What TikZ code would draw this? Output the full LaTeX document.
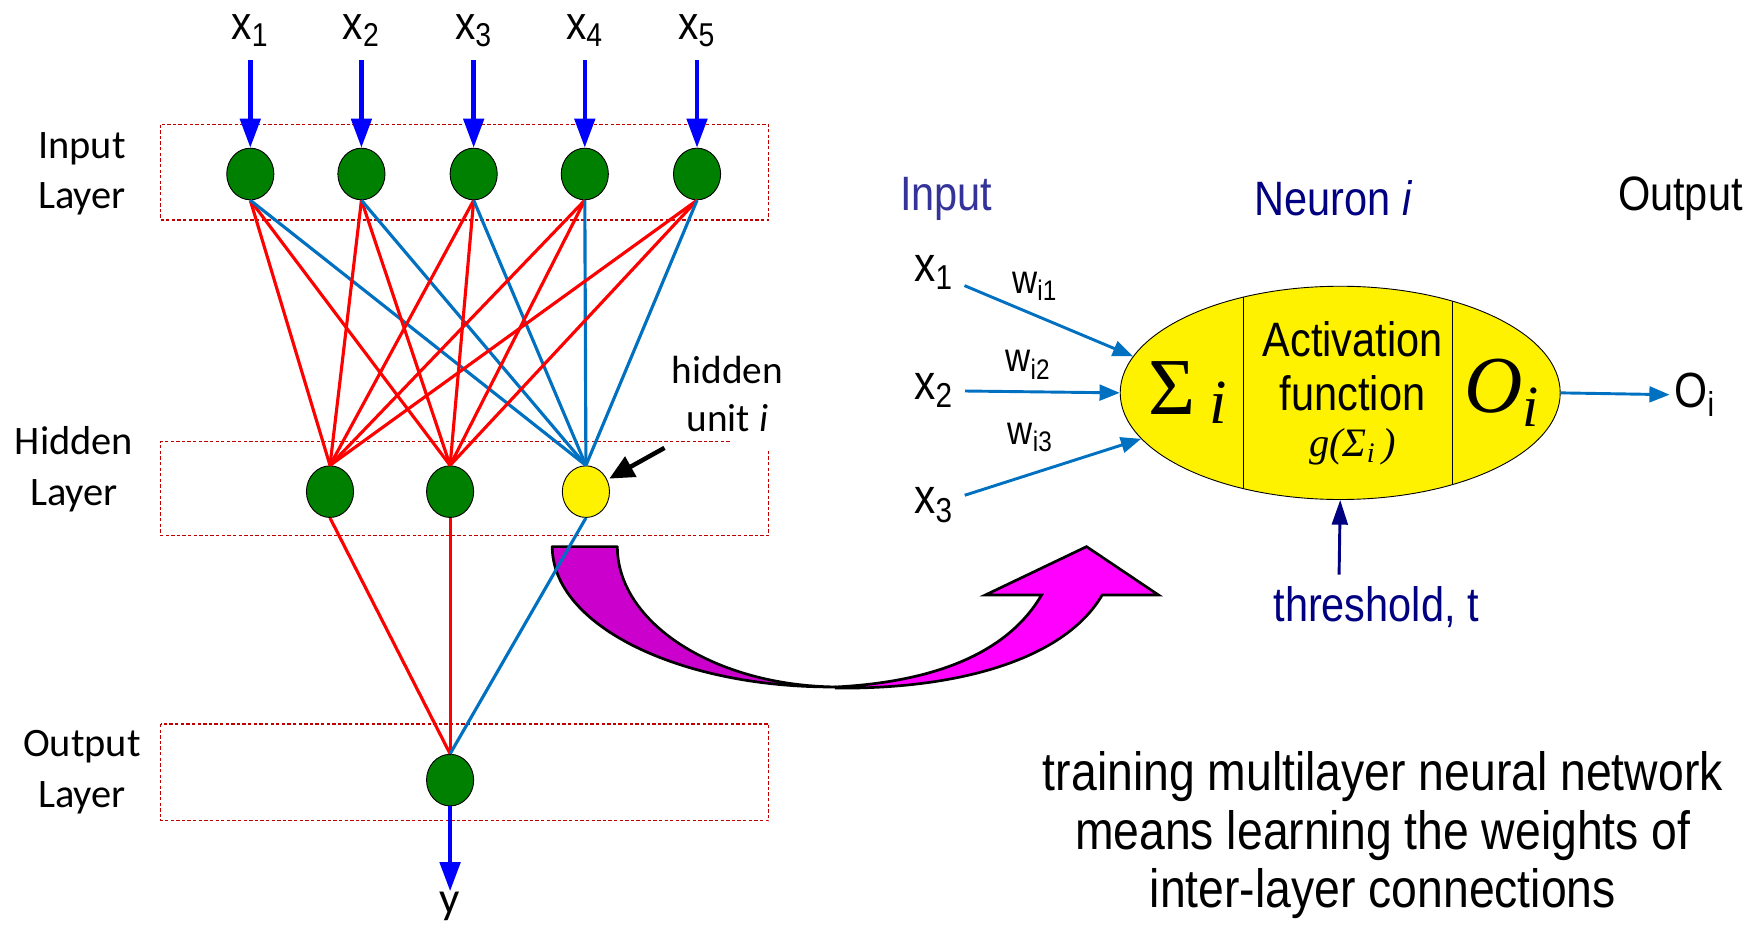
\documentclass[tikz,border=0pt]{standalone}
\usepackage{fontspec}
\usetikzlibrary{shapes.geometric,arrows.meta}
\newfontfamily\arialn{Liberation Sans}[FakeStretch=0.86]
\newfontfamily\calib{Carlito}
\newfontfamily\romanf{Liberation Serif}
\definecolor{netgreen}{RGB}{0,128,0}
\definecolor{feedblue}{RGB}{0,0,255}
\definecolor{wireblue}{RGB}{0,112,192}
\definecolor{boxred}{RGB}{192,0,0}
\definecolor{navy}{RGB}{0,0,128}
\definecolor{inpurple}{RGB}{51,51,153}
\definecolor{tailmag}{RGB}{204,0,204}
\definecolor{headmag}{RGB}{255,0,255}
\tikzset{
  unit/.style    = {shape=ellipse, draw, thin, inner sep=0pt,
                    minimum width=21pt, minimum height=23pt, fill=netgreen},
  hidunit/.style = {unit, fill=yellow},
  layer/.style   = {draw=boxred, dash pattern=on 1.5pt off 1pt, line width=0.5pt},
  laylab/.style  = {font=\calib\fontsize{18}{22.5}\selectfont, align=center},
  feed/.style    = {draw=feedblue, line width=2pt, -{Triangle[width=9pt,length=13pt]}},
  redw/.style    = {draw=red, line width=1.4pt},
  bluew/.style   = {draw=wireblue, line width=1.4pt},
  syn/.style     = {draw=wireblue, line width=1.3pt, -{Triangle[width=7pt,length=9pt]}},
  narrow/.style  = {font=\arialn\fontsize{21.5}{24}\selectfont, align=center},
  xlab/.style    = {font=\arialn\fontsize{22}{24}\selectfont},
  wlab/.style    = {font=\arialn\fontsize{18}{20}\selectfont}
}

\begin{document}
\begin{tikzpicture}
  [
  x=0.5pt, y=-0.5pt,
  every node/.style = {inner sep=2pt}
  ]
  \useasboundingbox (0,0) rectangle (1568,827);

  % layers
  \draw[layer] (143,111) rectangle (685,196);
  \draw[layer] (650,393.5) -- (143,393.5) -- (143,477) -- (685,477) -- (685,400);
  \draw[layer] (143,645) rectangle (685,731);
  \node[laylab] at (73,155) {Input\\Layer};
  \node[laylab] at (66,418) {Hidden\\Layer};
  \node[laylab] at (73,688) {Output\\Layer};

  % units
  \foreach \i/\x in {1/223,2/322,3/422,4/521,5/621} {
    \node[xlab, font=\arialn\fontsize{21}{22}\selectfont, inner sep=0pt] (x\i) at (\x,27) {x\textsubscript{\i}};
    \node[unit] (in\i) at (\x,155) {};
    \draw[feed, shorten <=6pt] (x\i.south) -- (in\i.north);
  }
  \node[unit] (h1) at (294,438) {};
  \node[unit] (h2) at (401,438) {};
  \node[hidunit] (h3) at (522,438) {};
  \node[unit] (out) at (401,695) {};
  \node[font=\calib\fontsize{20}{22}\selectfont, anchor=north, inner sep=0pt] (y) at (401,794) {y};

  % transfer arrow
  \filldraw[fill=tailmag, line width=1.2pt, line join=round]
    (492,487) -- (550,487) .. controls (550,555) and (637,611) .. (745,612)
    .. controls (605,613) and (492,557) .. cycle;
  \filldraw[fill=headmag, line width=1.2pt, line join=miter]
    (745,612) .. controls (840,607) and (900,578) .. (928,530)
    -- (878,530) -- (968,487) -- (1032,530) -- (982,530)
    .. controls (950,585) and (860,614) .. (745,613) -- cycle;

  % weights
  \foreach \i in {1,...,5} {
    \draw[redw] (in\i.south) -- (h1.north);
    \draw[redw] (in\i.south) -- (h2.north);
    \draw[bluew] (in\i.south) -- (h3.north);
  }
  \draw[redw] (h1.south) -- (out.north);
  \draw[redw] (h2.south) -- (out.north);
  \draw[bluew] (h3.south) -- (out.north);
  \draw[feed] (out.south) -- (y.north);

  \node[font=\calib\fontsize{17.5}{21}\selectfont, align=center] (hlab) at (648,351) {hidden\\unit \textit{i}};
  \coordinate (ptr) at (592,399);
  \draw[line width=2pt, -{Triangle[width=10pt,length=11pt]}, shorten >=1pt] (ptr) -- (h3);

  % neuron i
  \node[narrow, text=inpurple] (tin) at (843,177) {Input};
  \node[narrow, text=navy] (tneu) at (1188,177) {Neuron \textit{i}};
  \node[narrow] (tout) at (1497,177) {Output};

  \node[shape=ellipse, draw, thin, fill=yellow, inner sep=0pt,
        minimum width=196pt, minimum height=95pt] (neuron) at (1194,350) {};
  \begin{scope}
    \clip (1194,350) ellipse [x radius=196, y radius=95];
    \draw[thin] (1108,200) -- (1108,500);
    \draw[thin] (1294,200) -- (1294,500);
  \end{scope}
  \node[font=\romanf\fontsize{36}{36}\selectfont] (sum) at (1058,350) {Σ\,\raisebox{-4pt}{\fontsize{28}{28}\selectfont\itshape i}};
  \node[narrow, align=center] (act) at (1205,326) {Activation\\function};
  \node[font=\romanf\itshape\fontsize{18}{18}\selectfont] (g) at (1205,398) {g(Σ\textsubscript{i}\,)};
  \node[font=\romanf\itshape\fontsize{36}{36}\selectfont] (oi) at (1338,350) {O\raisebox{-6pt}{\fontsize{26}{26}\selectfont i}};

  \node[xlab] (rx1) at (832,243) {x\textsubscript{1}};
  \node[xlab] (rx2) at (832,348) {x\textsubscript{2}};
  \node[xlab] (rx3) at (832,450) {x\textsubscript{3}};
  \node[wlab] at (922,255) {w\textsubscript{i1}};
  \node[wlab] at (916,325) {w\textsubscript{i2}};
  \node[wlab] at (918,390) {w\textsubscript{i3}};
  \draw[syn, shorten <=3pt] (rx1) -- (neuron.170);
  \draw[syn, shorten <=3pt] (rx2) -- (neuron.west);
  \draw[syn, shorten <=3pt] (rx3) -- (neuron.193);

  \node[xlab] (onode) at (1510,352) {O\textsubscript{i}};
  \draw[syn] (neuron.east) -- (onode);

  \node[narrow, text=navy] (thr) at (1226,541) {threshold, t};
  \coordinate (tbase) at (1193,512);
  \draw[navy, line width=1.3pt, -{Triangle[width=7pt,length=11pt]}] (tbase) -- (neuron.south);

  \node[font=\arialn\fontsize{24}{26}\selectfont, align=center] (note) at (1232,744)
    {training multilayer neural network\\means learning the weights of\\inter-layer connections};
\end{tikzpicture}
\end{document}
